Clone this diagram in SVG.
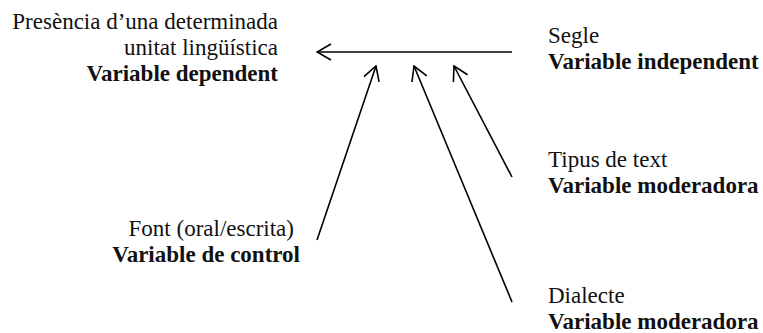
<svg xmlns="http://www.w3.org/2000/svg" width="763" height="333" viewBox="0 0 763 333">
<style>
text{font-family:'Liberation Serif','DejaVu Serif',serif;font-size:23px;fill:#111}
.b{font-weight:bold}
.e{text-anchor:end}
.c{fill:none;stroke:#000;stroke-width:1.6;stroke-linecap:butt}
</style>
<defs>
<marker id="ah" viewBox="0 0 20 20" refX="19" refY="10" markerWidth="20" markerHeight="20" markerUnits="userSpaceOnUse" orient="auto">
<path d="M5,2 L19,10 L5,18" fill="none" stroke="#000" stroke-width="1.6"/>
</marker>
</defs>
<g id="dependent">
<text class="e" x="278" y="29">Presència d’una determinada</text>
<text class="e" x="278" y="55">unitat lingüística</text>
<text class="e b" x="278" y="81">Variable dependent</text>
</g>
<g id="independent">
<text x="548" y="43">Segle</text>
<text class="b" x="548" y="69">Variable independent</text>
</g>
<g id="tipus">
<text x="548" y="167">Tipus de text</text>
<text class="b" x="548" y="193">Variable moderadora</text>
</g>
<g id="dialecte">
<text x="548" y="303">Dialecte</text>
<text class="b" x="548" y="329">Variable moderadora</text>
</g>
<g id="font">
<text class="e" x="294" y="236">Font (oral/escrita)</text>
<text class="e b" x="300" y="262">Variable de control</text>
</g>
<g id="connectors">
<line class="c" x1="512" y1="52" x2="317" y2="52" marker-end="url(#ah)"/>
<line class="c" x1="317" y1="240" x2="376" y2="66" marker-end="url(#ah)"/>
<line class="c" x1="512" y1="302" x2="414" y2="66" marker-end="url(#ah)"/>
<line class="c" x1="512" y1="177" x2="454" y2="66" marker-end="url(#ah)"/>
</g>
</svg>
